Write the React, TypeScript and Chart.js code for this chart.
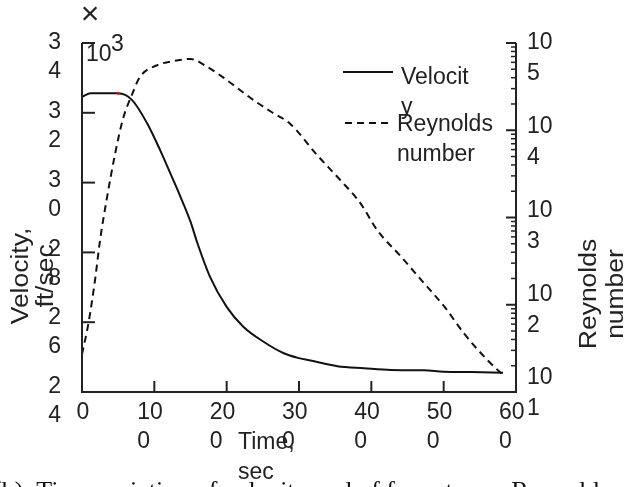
import { useEffect, useRef } from "react";
import { Chart, registerables } from "chart.js";

Chart.register(...registerables);

// ---- data ----
const velocityTime = [0, 12, 50, 69, 90, 108, 122, 136, 150, 159, 177, 200, 223, 251, 279, 300, 316, 353, 390, 427, 473, 500, 538, 582];
const velocityValues = [3246, 3256, 3256, 3237, 3170, 3093, 3027, 2960, 2888, 2830, 2730, 2644, 2587, 2544, 2511, 2497, 2490, 2474, 2468, 2463, 2462, 2458, 2457, 2455];

const reynoldsTime = [0, 9, 18, 25, 34, 46, 57, 69, 80, 103, 131, 150, 173, 200, 237, 262, 288, 325, 357, 385, 408, 441, 473, 501, 528, 561, 582];
const reynoldsValues = [27, 62, 192, 552, 1590, 5490, 13800, 25400, 40700, 55200, 63000, 65600, 53400, 37700, 22200, 16200, 11800, 5200, 2690, 1455, 719, 356, 176, 95, 47, 23, 15.7];

// ---- axes / tick labels ----
const xTicks = [0, 100, 200, 300, 400, 500, 600];
const xTickLabels = [["0"], ["10", "0"], ["20", "0"], ["30", "0"], ["40", "0"], ["50", "0"], ["60", "0"]];
const velocityTicks = [3400, 3200, 3000, 2800, 2600, 2400];
const velocityTickLabels = [["3", "4"], ["3", "2"], ["3", "0"], ["2", "8"], ["2", "6"], ["2", "4"]];
const reynoldsTicks = [100000, 10000, 1000, 100, 10];
const reynoldsTickLabels = [["10", "5"], ["10", "4"], ["10", "3"], ["10", "2"], ["10", "1"]];

const velocityLegend = ["Velocit", "y"];
const reynoldsLegend = ["Reynolds", "number"];
const xTitle = ["Time,", "sec"];
const leftTitle = ["Velocity,", "ft/sec"];
const rightTitle = ["Reynolds", "number"];
const caption = "(b)  Time variation of velocity and of free-stream Reynolds number";

const SANS = '"Liberation Sans", Arial, Helvetica, sans-serif';
const SERIF = '"Liberation Serif", "Times New Roman", serif';
const INK = "#222222";

const axesPainter = {
  id: "axesPainter",
  afterDatasetsDraw(chart: any) {
    const ctx: CanvasRenderingContext2D = chart.ctx;
    const { left, right, top, bottom } = chart.chartArea;
    const sx = chart.scales.x;
    const sv = chart.scales.yV;
    const sr = chart.scales.yR;
    ctx.save();
    ctx.strokeStyle = INK;
    ctx.lineWidth = 2;
    ctx.lineCap = "butt";
    const line = (x1: number, y1: number, x2: number, y2: number) => {
      ctx.beginPath();
      ctx.moveTo(x1, y1);
      ctx.lineTo(x2, y2);
      ctx.stroke();
    };
    // axis lines
    line(left - 1, bottom, right + 1, bottom);
    line(left, top, left, bottom);
    line(right, top, right, bottom);
    // x ticks (inward)
    xTicks.forEach((t) => {
      const px = sx.getPixelForValue(t);
      line(px, bottom, px, bottom - 11);
    });
    // left ticks
    velocityTicks.forEach((v) => {
      const py = sv.getPixelForValue(v);
      line(left, py, left + 13, py);
    });
    // right major ticks
    reynoldsTicks.forEach((v) => {
      const py = sr.getPixelForValue(v);
      line(right, py, right - 10, py);
    });
    // right minor ticks
    ctx.lineWidth = 1.5;
    for (let d = 10; d < 100000; d *= 10) {
      for (let m = 2; m <= 9; m++) {
        const py = sr.getPixelForValue(m * d);
        line(right, py, right - 5, py);
      }
    }

    // labels
    ctx.fillStyle = INK;
    ctx.font = `23px ${SANS}`;
    ctx.textBaseline = "middle";
    xTicks.forEach((t, i) => {
      const px = sx.getPixelForValue(t);
      const lines = xTickLabels[i];
      if (lines.length === 1) {
        ctx.textAlign = "center";
        ctx.fillText(lines[0], px + 1, bottom + 21);
      } else {
        ctx.textAlign = "left";
        lines.forEach((s, j) => ctx.fillText(s, px - 17, bottom + 21 + j * 29));
      }
    });
    ctx.textAlign = "right";
    velocityTicks.forEach((v, i) => {
      const py = top + (sv.getPixelForValue(v) - top) * 0.985;
      velocityTickLabels[i].forEach((s, j) => ctx.fillText(s, left - 21, py + j * 29));
    });
    ctx.textAlign = "left";
    reynoldsTicks.forEach((v, i) => {
      const py = top + (sr.getPixelForValue(v) - top) * 0.96;
      reynoldsTickLabels[i].forEach((s, j) => ctx.fillText(s, right + 11, py + j * 31));
    });

    // x title
    ctx.textAlign = "left";
    xTitle.forEach((s, j) => ctx.fillText(s, 238, 443 + j * 30));

    // rotated titles (stretched along their length, as in the reference)
    const rot = (lines: string[], xs: number[], cy: number) => {
      lines.forEach((s, j) => {
        ctx.save();
        ctx.translate(xs[j], cy);
        ctx.rotate(-Math.PI / 2);
        ctx.scale(1.15, 1);
        ctx.textAlign = "center";
        ctx.fillText(s, 0, 0);
        ctx.restore();
      });
    };
    rot(leftTitle, [22, 47], 276);
    rot(rightTitle, [590, 617], 294);

    // multiplier
    ctx.save();
    ctx.font = `32px ${SANS}`;
    ctx.textAlign = "center";
    ctx.fillText("\u00d7", 90, 15);
    ctx.restore();
    ctx.textAlign = "left";
    ctx.fillText("10", 86, 55);
    ctx.fillText("3", 111, 45);

    // legend
    const ds = chart.data.datasets;
    ctx.lineWidth = 2;
    ctx.strokeStyle = ds[0].borderColor;
    ctx.setLineDash([]);
    line(343, 72, 393, 72);
    ctx.strokeStyle = ds[1].borderColor;
    ctx.setLineDash(ds[1].borderDash);
    line(345, 123, 392, 123);
    ctx.setLineDash([]);
    ctx.textAlign = "left";
    velocityLegend.forEach((s, j) => ctx.fillText(s, 401, 78 + j * 30));
    reynoldsLegend.forEach((s, j) => ctx.fillText(s, 397, 125 + j * 30));

    // caption (cut off at bottom)
    ctx.font = `26px ${SERIF}`;
    ctx.textBaseline = "alphabetic";
    ctx.fillStyle = "#111";
    ctx.fillText(caption, -7, 499);
    ctx.restore();
  },
};

export default function App() {
  const ref = useRef<HTMLCanvasElement>(null);
  useEffect(() => {
    document.body.style.margin = "0";
    const canvas = ref.current!;
    const chart = new Chart(canvas, {
      type: "line",
      data: {
        datasets: [
          {
            label: "Velocity",
            data: velocityTime.map((t, i) => ({ x: t, y: velocityValues[i] })),
            yAxisID: "yV",
            borderColor: "#111111",
            borderWidth: 2,
            pointRadius: velocityTime.map((t) => (t === 50 ? 1.6 : 0)),
            pointBackgroundColor: "#d01010",
            pointBorderWidth: 0,
            cubicInterpolationMode: "monotone",
            fill: false,
          },
          {
            label: "Reynolds number",
            data: reynoldsTime.map((t, i) => ({ x: t, y: reynoldsValues[i] })),
            yAxisID: "yR",
            borderColor: "#111111",
            borderWidth: 2,
            borderDash: [7, 5],
            pointRadius: 0,
            cubicInterpolationMode: "monotone",
            fill: false,
          },
        ],
      },
      options: {
        responsive: false,
        animation: false,
        devicePixelRatio: 1,
        layout: { padding: { left: 82, right: 112, top: 43, bottom: 95 } },
        plugins: { legend: { display: false }, tooltip: { enabled: false } },
        scales: {
          x: { type: "linear", min: 0, max: 600, display: false },
          yV: { type: "linear", position: "left", min: 2400, max: 3400, display: false },
          yR: { type: "logarithmic", position: "right", min: 10, max: 100000, display: false },
        },
      },
      plugins: [axesPainter],
    } as any);
    return () => chart.destroy();
  }, []);
  return (
    <div style={{ width: 628, height: 487, position: "relative", background: "#fff", overflow: "hidden" }}>
      <canvas ref={ref} width={628} height={487} style={{ display: "block" }} />
    </div>
  );
}
